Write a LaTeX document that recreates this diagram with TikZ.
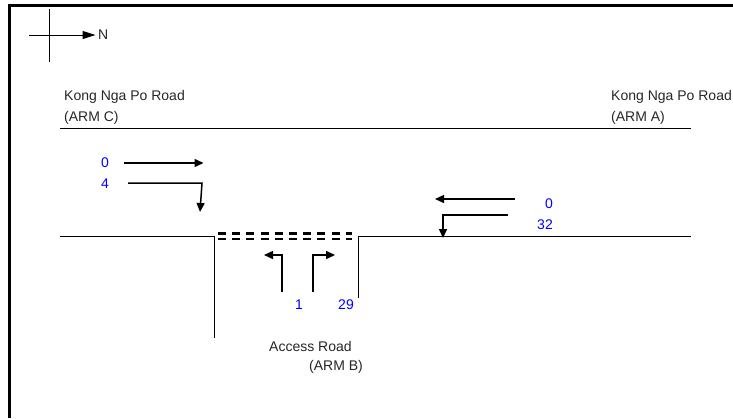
\documentclass[tikz,border=0pt]{standalone}
\usepackage{fontspec}
\setmainfont{Liberation Sans}
\usetikzlibrary{arrows.meta}
\tikzset{
    roadline/.style={line width=0.9pt},
    flowarrow/.style={-{Triangle[length=9pt,width=8pt]}, line width=1.5pt},
    armlabel/.style={anchor=west, inner sep=0pt, font=\fontsize{14}{16}\selectfont, black!85},
    countlabel/.style={inner sep=0pt, font=\fontsize{14}{16}\selectfont, blue},
}

\begin{document}
\begin{tikzpicture}[x=1pt, y=-1pt]
    \useasboundingbox (0,0) rectangle (733,418);
    % frame
    \draw[line width=3pt] (9.5,418) -- (9.5,5.5) -- (733,5.5);
    % compass
    \draw[line width=1pt] (49,9) -- (49,62);
    \draw[line width=1pt, -{Triangle[length=13pt,width=8pt]}] (29,35) -- (95.5,35);
    \node[armlabel] (north) at (98,35) {N};
    % road edges
    \draw[roadline] (60,128) -- (691,128);
    \draw[roadline] (60,236.5) -- (214,236.5) -- (214,338);
    \draw[roadline] (358,298) -- (358,236.5) -- (691,236.5);
    % stop line
    \draw[line width=2.2pt, dash pattern=on 8pt off 6.2pt] (218,233.5) -- (352,233.5);
    \draw[line width=2.2pt, dash pattern=on 8pt off 6.2pt] (218,239) -- (352,239);
    % turning movements
    \draw[flowarrow] (124,163) -- (203.5,163);
    \draw[flowarrow] (128,183) -- (202,183) -- (200,212);
    \draw[flowarrow] (515,199) -- (435,199);
    \draw[flowarrow] (508,215) -- (443,215) -- (443,238);
    \draw[flowarrow] (282,292) -- (282,255) -- (264,255);
    \draw[flowarrow] (313,292) -- (313,255) -- (335,255);
    % counts
    \foreach \x/\y/\l/\n in {105/163/0/cNorth, 105/184/4/cTurn, 549/204/0/aNorth, 545/225/32/aTurn, 299/305/1/bLeft, 346/305/29/bRight} {
        \node[countlabel] (\n) at (\x,\y) {\l};
    }
    % arm names
    \node[armlabel] (roadC) at (64,97) {Kong Nga Po Road};
    \node[armlabel] (armC) at (64,118) {(ARM C)};
    \node[armlabel] (roadA) at (611,97) {Kong Nga Po Road};
    \node[armlabel] (armA) at (611,118) {(ARM A)};
    \node[armlabel] (roadB) at (269,346) {Access Road};
    \node[armlabel] (armB) at (309,367) {(ARM B)};
\end{tikzpicture}
\end{document}
